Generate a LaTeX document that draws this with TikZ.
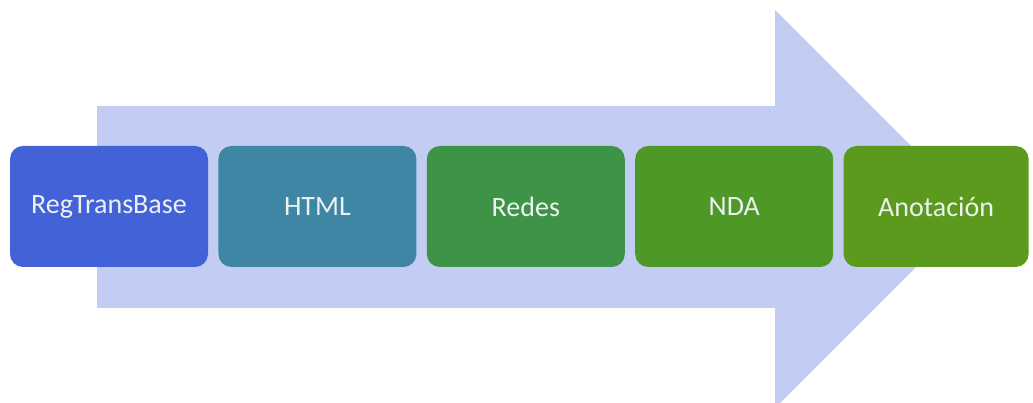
\documentclass[tikz,border=0pt]{standalone}
\usepackage{fontspec}
\setmainfont{Carlito}
\usepackage{xcolor}
\usetikzlibrary{positioning}

\definecolor{arrowfill}{RGB}{195,205,243}
\definecolor{regblue}{RGB}{68,98,216}
\definecolor{htmlteal}{RGB}{62,134,163}
\definecolor{redesgreen}{RGB}{62,148,70}
\definecolor{ndagreen}{RGB}{78,152,40}
\definecolor{anotgreen}{RGB}{92,154,30}
\definecolor{labeltext}{RGB}{236,242,240}

\tikzset{
  stagebox/.style={rounded corners=13pt, minimum width=198pt, minimum height=121pt,
    inner sep=0pt, text=labeltext, font=\fontsize{28}{32}\selectfont}
}

\begin{document}
\begin{tikzpicture}[x=1pt,y=1pt]
      \useasboundingbox (0,0) rectangle (1033,403);
      \begin{scope}
        % big arrow behind the stages
        \coordinate (tail) at (97,95);
        \coordinate (tip) at (974,194);
        \fill[arrowfill] (tail) -- (775,95) -- (775,-5) -- (tip) -- (775,393)
          -- (775,297) -- (97,297) -- cycle;

        \node[stagebox, fill=regblue] (regtrans) at (109,196.5) {RegTransBase};
        \node[stagebox, fill=htmlteal, right=10pt of regtrans] (html) {HTML};
        \node[stagebox, fill=redesgreen, right=10pt of html] (redes) {Redes};
        \node[stagebox, fill=ndagreen, right=10pt of redes] (nda) {NDA};
        \node[stagebox, fill=anotgreen, minimum width=185pt, right=10pt of nda]
          (anotacion) {Anotación};
      \end{scope}
\end{tikzpicture}
\end{document}
